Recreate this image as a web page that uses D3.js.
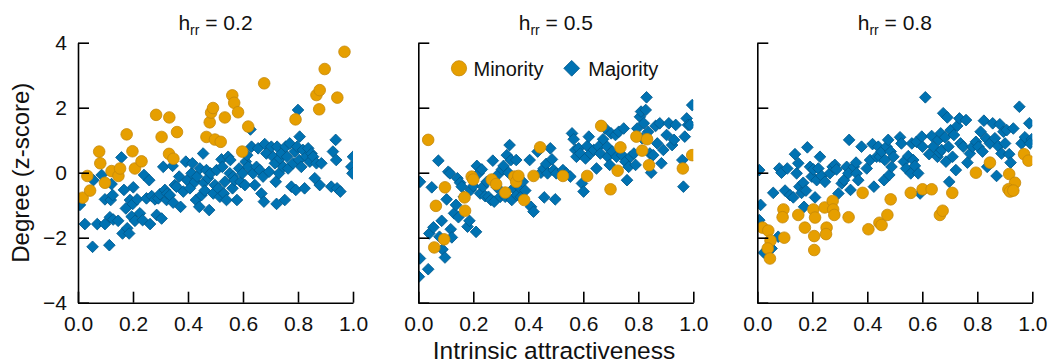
<!DOCTYPE html>
<html>
<head>
<meta charset="utf-8">
<script src="https://cdn.jsdelivr.net/npm/d3@7"></script>
<style>
  body { margin: 0; background: #fff; }
  svg { font-family: "Liberation Sans", Arial, sans-serif; }
</style>
</head>
<body>
<script>
// homophily values, one panel each
const hValues = ['0.2', '0.5', '0.8'];
const xTicks = [0, 0.2, 0.4, 0.6, 0.8, 1.0];
const yTicks = [-4, -2, 0, 2, 4];

// [intrinsic attractiveness, degree z-score]
const minority02 = [
  [0.017,-0.77],[0.034,-0.10],[0.044,-0.55],[0.077,0.65],[0.081,0.29],[0.098,-0.31],[0.122,0.05],
  [0.147,-0.10],[0.153,0.13],[0.177,1.18],[0.198,0.66],[0.207,0.13],[0.231,0.35],[0.284,1.78],
  [0.304,1.10],[0.332,1.70],[0.331,0.58],[0.347,0.43],[0.360,1.25],[0.467,1.10],[0.479,1.55],
  [0.484,1.85],[0.491,1.99],[0.498,1.02],[0.519,0.95],[0.534,1.70],[0.561,2.38],[0.568,2.15],
  [0.582,1.86],[0.597,0.65],[0.619,1.42],[0.677,2.75],[0.791,1.64],[0.867,2.39],[0.879,2.54],
  [0.877,1.95],[0.897,3.19],[0.943,2.31],[0.969,3.72]
];
const majority02 = [
  [0.007,-0.99],[0.025,-1.58],[0.053,-2.28],[0.056,-0.23],[0.070,-1.58],[0.086,-0.07],[0.098,-1.58],
  [0.098,-0.82],[0.114,-2.23],[0.116,-1.37],[0.119,-0.84],[0.122,-0.35],[0.126,-0.69],[0.128,-1.44],
  [0.146,-1.48],[0.158,0.47],[0.162,-1.87],[0.167,-0.53],[0.174,-1.10],[0.179,-1.71],[0.186,-1.87],
  [0.189,-0.84],[0.195,-1.35],[0.199,-0.96],[0.201,-0.45],[0.207,-1.48],[0.215,-0.82],[0.225,-1.25],
  [0.235,-1.46],[0.240,-0.07],[0.249,-0.79],[0.259,-0.23],[0.262,-1.58],[0.268,-0.72],[0.280,-0.82],
  [0.286,-1.30],[0.292,-0.79],[0.298,-0.66],[0.304,-1.41],[0.310,0.18],[0.316,-0.53],[0.322,-0.84],
  [0.324,-0.64],[0.334,-0.69],[0.344,0.21],[0.346,-0.92],[0.352,-0.38],[0.358,-0.43],[0.368,-0.12],
  [0.373,-1.05],[0.383,-0.58],[0.392,0.34],[0.397,-0.23],[0.407,-0.48],[0.413,-0.02],[0.416,0.29],
  [0.425,-0.28],[0.429,-0.84],[0.433,-0.12],[0.441,-1.05],[0.443,0.13],[0.449,-0.69],[0.455,0.59],
  [0.458,-0.31],[0.461,-0.55],[0.467,0.08],[0.473,-0.17],[0.477,-1.15],[0.482,-0.02],[0.492,-0.64],
  [0.498,-0.38],[0.504,0.08],[0.510,-0.48],[0.516,-0.74],[0.522,0.41],[0.525,0.18],[0.530,-0.64],
  [0.534,-0.28],[0.540,-0.84],[0.546,0.49],[0.552,-0.02],[0.554,0.39],[0.562,-0.48],[0.564,-0.12],
  [0.570,-0.23],[0.578,-0.84],[0.586,0.13],[0.591,-0.28],[0.598,-0.02],[0.607,-0.38],[0.610,0.34],
  [0.615,0.54],[0.619,0.18],[0.627,1.33],[0.631,0.80],[0.637,-0.02],[0.643,-0.38],[0.649,0.18],
  [0.655,0.75],[0.661,0.08],[0.667,-0.64],[0.673,-0.12],[0.676,-0.89],[0.679,0.88],[0.685,0.59],
  [0.695,0.03],[0.703,0.80],[0.709,0.49],[0.716,0.29],[0.719,-0.28],[0.722,-0.96],[0.724,0.80],
  [0.731,-0.02],[0.734,0.44],[0.740,0.59],[0.746,0.18],[0.752,-0.84],[0.755,0.80],[0.760,0.49],
  [0.764,0.13],[0.770,0.90],[0.776,-0.43],[0.782,0.29],[0.788,0.65],[0.792,-0.53],[0.797,0.80],
  [0.800,1.93],[0.804,0.39],[0.806,1.11],[0.812,0.18],[0.818,0.70],[0.824,-0.48],[0.830,0.49],
  [0.837,0.75],[0.843,0.34],[0.849,0.59],[0.855,0.49],[0.861,-0.17],[0.867,0.29],[0.879,-0.38],
  [0.885,0.29],[0.921,-0.43],[0.927,0.65],[0.937,1.01],[0.939,0.39],[0.942,-0.48],[0.954,-0.58],
  [0.994,0.18],[1.000,0.49],[0.998,-0.02]
];

const minority05 = [
  [0.036,1.01],[0.058,-2.30],[0.064,-1.02],[0.097,-0.45],[0.094,-2.05],[0.168,-0.76],[0.170,-1.17],
  [0.194,-0.12],[0.200,-0.21],[0.267,-0.21],[0.283,-0.35],[0.316,-0.61],[0.349,-0.12],[0.356,-0.28],
  [0.364,-0.10],[0.385,-0.84],[0.419,-0.10],[0.443,0.78],[0.526,-0.10],[0.614,-0.10],[0.665,1.44],
  [0.699,-0.51],[0.725,0.06],[0.735,0.78],[0.793,1.11],[0.814,0.68],[0.832,1.03],[0.839,0.23],
  [0.962,0.13],[0.996,0.54]
];
const majority05 = [
  [0.006,-0.28],[0.006,-2.64],[0.002,-3.20],[0.036,-2.97],[0.049,-0.45],[0.040,-1.87],[0.055,-1.68],
  [0.073,0.37],[0.077,-1.97],[0.085,-1.48],[0.088,-2.36],[0.097,-2.61],[0.103,-0.82],[0.109,0.03],
  [0.115,-0.02],[0.118,-1.74],[0.122,-1.99],[0.130,-1.25],[0.137,-0.99],[0.142,-0.17],[0.146,-1.37],
  [0.152,-0.31],[0.158,-0.43],[0.166,-0.74],[0.179,-1.66],[0.186,-1.48],[0.191,-0.53],[0.200,-0.41],
  [0.210,-1.82],[0.213,0.21],[0.219,-0.02],[0.225,-0.64],[0.231,0.10],[0.235,-0.43],[0.243,-0.72],
  [0.249,-0.28],[0.255,-0.74],[0.264,-0.84],[0.271,0.37],[0.276,-0.89],[0.286,-0.45],[0.292,-0.04],
  [0.298,-0.74],[0.304,0.10],[0.310,0.21],[0.316,-0.74],[0.322,0.54],[0.328,0.00],[0.332,0.85],
  [0.337,0.39],[0.340,-0.84],[0.346,-0.48],[0.356,0.39],[0.358,-0.69],[0.368,-0.45],[0.373,-0.74],
  [0.380,-0.28],[0.389,-0.55],[0.405,0.39],[0.410,-1.05],[0.419,-1.20],[0.434,0.65],[0.446,0.00],
  [0.456,0.13],[0.458,-0.76],[0.465,0.27],[0.470,-0.02],[0.480,0.75],[0.486,0.41],[0.492,0.08],
  [0.498,-0.82],[0.502,-0.02],[0.526,0.08],[0.538,-0.02],[0.553,-0.12],[0.559,1.21],[0.565,1.03],
  [0.571,0.70],[0.575,0.49],[0.583,0.75],[0.589,0.59],[0.595,-0.33],[0.601,-0.58],[0.608,0.44],
  [0.614,0.82],[0.620,1.11],[0.626,0.59],[0.638,0.70],[0.648,0.13],[0.656,0.80],[0.662,0.59],
  [0.672,1.03],[0.680,1.36],[0.687,0.80],[0.689,0.49],[0.696,0.24],[0.701,1.21],[0.705,0.65],
  [0.717,1.16],[0.721,0.49],[0.729,1.26],[0.741,0.54],[0.747,1.36],[0.753,0.34],[0.759,-0.23],
  [0.765,0.18],[0.772,0.49],[0.784,0.59],[0.790,0.24],[0.796,1.36],[0.806,1.72],[0.810,1.88],
  [0.814,1.06],[0.820,1.52],[0.827,1.93],[0.830,2.32],[0.836,1.26],[0.842,0.59],[0.847,0.00],
  [0.854,0.54],[0.863,1.44],[0.869,0.90],[0.878,1.52],[0.884,0.29],[0.891,0.70],[0.903,1.16],
  [0.911,1.52],[0.923,0.85],[0.930,1.01],[0.936,1.47],[0.960,0.39],[0.964,-0.43],[0.969,1.11],
  [0.976,1.67],[0.981,1.47],[0.988,1.47],[0.996,2.08]
];

const minority08 = [
  [0.019,-1.69],[0.040,-1.78],[0.048,-2.09],[0.038,-2.33],[0.046,-2.64],[0.095,-1.13],[0.092,-1.37],
  [0.098,-2.00],[0.149,-1.30],[0.173,-1.69],[0.204,-1.13],[0.210,-1.38],[0.207,-1.95],[0.207,-2.38],
  [0.245,-1.07],[0.252,-1.69],[0.250,-1.89],[0.274,-0.87],[0.276,-1.13],[0.280,-1.30],[0.332,-1.37],
  [0.383,-0.62],[0.404,-1.74],[0.444,-1.54],[0.452,-1.61],[0.473,-1.30],[0.485,-0.82],[0.558,-0.62],
  [0.601,-0.51],[0.634,-0.51],[0.664,-1.30],[0.674,-1.17],[0.709,-0.62],[0.795,0.00],[0.846,0.31],
  [0.916,-0.04],[0.937,-0.31],[0.913,-0.51],[0.919,-0.58],[0.931,-0.55],[0.970,0.57],[0.986,0.37]
];
const majority08 = [
  [0.007,0.08],[0.012,-0.99],[0.007,-1.46],[0.024,-2.46],[0.052,-2.33],[0.058,-0.62],[0.076,-1.97],
  [0.080,0.13],[0.088,0.00],[0.101,-0.55],[0.109,0.13],[0.119,-0.69],[0.131,-0.76],[0.137,0.57],
  [0.143,-0.02],[0.149,0.29],[0.153,-0.43],[0.161,-0.62],[0.167,-0.31],[0.170,-1.05],[0.177,-0.55],
  [0.182,0.78],[0.192,0.18],[0.198,-0.12],[0.204,0.10],[0.210,-0.76],[0.216,-0.23],[0.222,0.13],
  [0.228,0.49],[0.234,-0.10],[0.246,-0.28],[0.264,-0.02],[0.274,0.18],[0.282,0.24],[0.288,0.10],
  [0.295,-0.64],[0.307,-0.33],[0.315,-0.23],[0.325,0.18],[0.331,-0.02],[0.334,1.01],[0.339,-0.53],
  [0.351,0.18],[0.359,0.31],[0.361,-0.02],[0.367,-0.23],[0.379,0.80],[0.398,0.13],[0.410,0.39],
  [0.419,0.88],[0.424,-0.43],[0.434,0.49],[0.440,0.80],[0.446,0.49],[0.452,0.65],[0.461,-0.23],
  [0.464,0.39],[0.470,0.80],[0.476,1.01],[0.480,-0.07],[0.485,0.65],[0.488,0.18],[0.495,0.49],
  [0.519,1.09],[0.524,0.90],[0.533,0.34],[0.541,0.13],[0.549,0.51],[0.558,-0.02],[0.562,0.90],
  [0.567,0.39],[0.573,0.21],[0.579,0.95],[0.585,-0.02],[0.592,-0.64],[0.598,1.11],[0.601,0.80],
  [0.611,2.32],[0.625,0.57],[0.634,1.13],[0.640,0.80],[0.655,0.49],[0.658,1.01],[0.662,0.62],
  [0.667,1.21],[0.670,0.70],[0.676,1.83],[0.683,1.09],[0.686,0.34],[0.691,1.70],[0.695,0.80],
  [0.698,-0.28],[0.703,1.31],[0.710,0.49],[0.715,1.16],[0.722,0.08],[0.727,1.44],[0.735,1.67],
  [0.739,0.90],[0.749,0.80],[0.759,1.62],[0.764,0.31],[0.773,0.59],[0.783,0.80],[0.795,0.95],
  [0.804,0.80],[0.812,1.26],[0.819,0.65],[0.824,1.60],[0.832,1.06],[0.836,0.18],[0.846,0.90],
  [0.856,1.52],[0.864,1.06],[0.870,-0.10],[0.876,0.82],[0.882,1.49],[0.888,0.59],[0.895,1.26],
  [0.901,0.90],[0.907,1.31],[0.916,0.57],[0.921,0.31],[0.931,1.36],[0.953,2.03],[0.961,0.90],
  [0.973,1.09],[0.989,1.52],[0.998,1.03],[0.992,0.90]
];

const minoritySets = [minority02, minority05, minority08];
const majoritySets = [majority02, majority05, majority08];

const minColor = '#E69F00', minEdge = '#C4880A';
const majColor = '#0072B2', majEdge = '#005A8E';

const width = 1049, height = 364;
const panelLeft = [78, 418.3, 757.3];
const panelW = 275;
const plotTop = 42.7, plotBottom = 302.7;

const svg = d3.select('body').append('svg')
  .attr('width', width)
  .attr('height', height);

const diamond = d3.symbol().type(d3.symbolSquare).size(68)();
const diamondBig = d3.symbol().type(d3.symbolSquare).size(124)();

hValues.forEach((h, i) => {
  const g = svg.append('g').attr('transform', 'translate(' + panelLeft[i] + ',0)');
  const x = d3.scaleLinear().domain([0, 1]).range([0, panelW]);
  const y = d3.scaleLinear().domain([-4, 4]).range([plotBottom, plotTop]);

  g.append('clipPath').attr('id', 'clip' + i)
    .append('rect')
    .attr('x', 0).attr('y', plotTop)
    .attr('width', panelW).attr('height', plotBottom - plotTop);

  const marks = g.append('g').attr('clip-path', 'url(#clip' + i + ')');

  marks.selectAll('.maj')
    .data(majoritySets[i])
    .enter().append('path')
    .attr('class', 'maj')
    .attr('d', diamond)
    .attr('transform', d => 'translate(' + x(d[0]) + ',' + y(d[1]) + ') rotate(45)')
    .attr('fill', majColor)
    .attr('stroke', majEdge)
    .attr('stroke-width', 0.8);

  marks.selectAll('.min')
    .data(minoritySets[i])
    .enter().append('circle')
    .attr('class', 'min')
    .attr('cx', d => x(d[0]))
    .attr('cy', d => y(d[1]))
    .attr('r', 5.8)
    .attr('fill', minColor)
    .attr('stroke', minEdge)
    .attr('stroke-width', 0.8);

  // axes, ticks pointing inward
  const yAxis = d3.axisLeft(y).tickValues(yTicks)
    .tickSizeInner(-11).tickSizeOuter(0).tickPadding(11)
    .tickFormat(i === 0 ? d3.format('d') : () => '');
  const xAxis = d3.axisBottom(x).tickValues(xTicks)
    .tickSizeInner(-11).tickSizeOuter(0).tickPadding(13)
    .tickFormat(d3.format('.1f'));

  const ya = g.append('g').call(yAxis);
  const xa = g.append('g').attr('transform', 'translate(0,' + plotBottom + ')').call(xAxis);

  [ya, xa].forEach(a => {
    a.attr('font-family', null).attr('font-size', null);
    a.select('.domain').attr('stroke', '#000').attr('stroke-width', 1.6);
    a.selectAll('.tick line').attr('stroke', '#000').attr('stroke-width', 1.6);
    a.selectAll('.tick text').attr('fill', '#111').style('font-size', '21px');
  });

  // panel title
  const t = g.append('text')
    .attr('x', panelW / 2).attr('y', 30)
    .attr('text-anchor', 'middle')
    .style('font-size', '21px')
    .attr('fill', '#111');
  t.append('tspan').text('h');
  t.append('tspan').attr('dy', 5).style('font-size', '14px').text('rr');
  t.append('tspan').attr('dy', -5).text(' = ' + h);
});

// legend in middle panel
const lg = svg.append('g');
lg.append('circle')
  .attr('cx', 459).attr('cy', 68.3).attr('r', 7.6)
  .attr('fill', minColor).attr('stroke', minEdge).attr('stroke-width', 0.8);
lg.append('text').attr('x', 473.5).attr('y', 75.5)
  .style('font-size', '20px').attr('fill', '#111').text('Minority');
lg.append('path')
  .attr('d', diamondBig)
  .attr('transform', 'translate(571.7,68.3) rotate(45)')
  .attr('fill', majColor).attr('stroke', majEdge).attr('stroke-width', 0.8);
lg.append('text').attr('x', 588.3).attr('y', 75.5)
  .style('font-size', '20px').attr('fill', '#111').text('Majority');

// shared axis labels
svg.append('text')
  .attr('transform', 'translate(29,172.7) rotate(-90)')
  .attr('text-anchor', 'middle')
  .style('font-size', '24px')
  .attr('fill', '#111')
  .text('Degree (z-score)');

svg.append('text')
  .attr('x', 554).attr('y', 359)
  .attr('text-anchor', 'middle')
  .style('font-size', '24.5px')
  .attr('fill', '#111')
  .text('Intrinsic attractiveness');
</script>
</body>
</html>
